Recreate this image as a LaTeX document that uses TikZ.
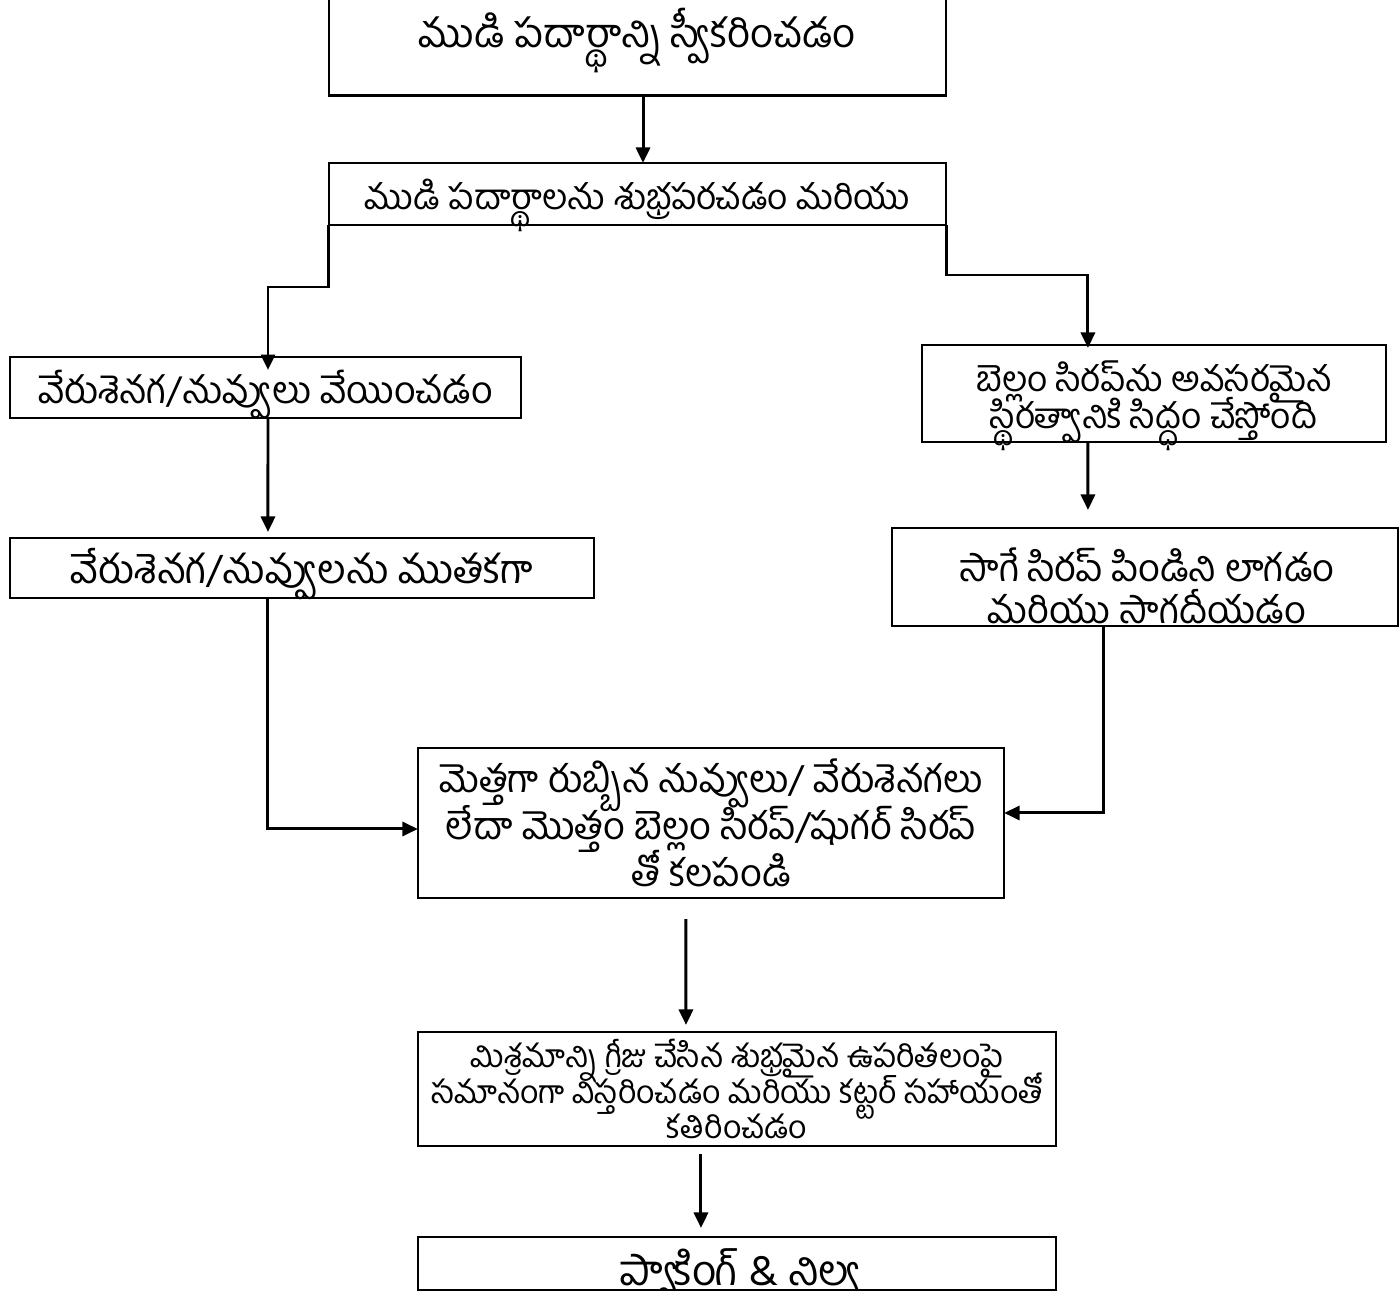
\documentclass[tikz,border=0pt]{standalone}
\usepackage{fontspec}
\newfontfamily\telugu[Script=Telugu]{Hind Guntur}
\usetikzlibrary{arrows.meta,positioning}
\tikzset{>={Triangle[width=4pt,length=4.4pt]}}
\newcommand{\tsize}[2]{\telugu\fontsize{#1}{#2}\selectfont\lineskiplimit=-20pt\lineskip=0pt}
\tikzset{
	stepbox/.style={draw, line width=0.6pt, outer sep=0pt, inner xsep=2pt, inner ysep=0pt, align=center,
			font=\tsize{11}{13}},
	oneline/.style={text height=10pt, text depth=1pt},
	steptext/.style={inner sep=0pt, align=center, font=\tsize{11}{13}},
	flow/.style={->, line width=0.85pt}
}

\begin{document}
\begin{tikzpicture}[x=0.01cm, y=-0.01cm]
	\useasboundingbox (0,0) rectangle (1399,1292);
	% process boxes
	\node[stepbox, minimum width=6.17cm, minimum height=0.97cm] (take) at (637.5,47) {};
	\node[steptext, font=\tsize{11.4}{13}] (take-t) at (637.5,41) {ముడి పదార్థాన్ని స్వీకరించడం};
	\node[stepbox, oneline, minimum width=6.17cm, minimum height=0.62cm, font=\tsize{10}{12}] (clean) at (637.5,194) {ముడి పదార్థాలను శుభ్రపరచడం మరియు};
	\node[stepbox, oneline, minimum width=5.11cm, minimum height=0.61cm, font=\tsize{10.7}{12}] (roast) at (265.5,387.5) {వేరుశెనగ/నువ్వులు వేయించడం};
	\node[stepbox, text height=21pt, text depth=1pt, minimum width=4.64cm, minimum height=0.97cm, font=\tsize{10}{10.7}] (syrup) at (1154,393.5) {బెల్లం సిరప్‌ను అవసరమైన\\స్థిరత్వానికి సిద్ధం చేస్తోంది};
	\node[stepbox, oneline, minimum width=5.84cm, minimum height=0.60cm, font=\tsize{11.3}{12}] (crush) at (302,568) {వేరుశెనగ/నువ్వులను ముతకగా};
	\node[stepbox, minimum width=5.06cm, minimum height=0.98cm] (pull) at (1145,577) {};
	\node[stepbox, minimum width=5.86cm, minimum height=1.50cm, font=\tsize{10.8}{13.4}] (mix) at (711,823) {మెత్తగా రుబ్బిన నువ్వులు/ వేరుశెనగలు\\లేదా మొత్తం బెల్లం సిరప్/షుగర్ సిరప్\\తో కలపండి};
	\node[stepbox, minimum width=6.38cm, minimum height=1.14cm, font=\tsize{9.1}{10.2}] (spread) at (737,1089) {మిశ్రమాన్ని గ్రీజు చేసిన శుభ్రమైన ఉపరితలంపై\\సమానంగా విస్తరించడం మరియు కట్టర్ సహాయంతో\\కతిరించడం};
	\node[stepbox, minimum width=6.38cm, minimum height=0.53cm] (store) at (737,1263.5) {};
	% texts cut off by their boxes
	\begin{scope}
		\clip (pull.north west) rectangle (pull.south east);
		\node[steptext, font=\tsize{10.8}{12}] (pull-t) at (1147,586) {సాగే సిరప్ పిండిని లాగడం\\మరియు సాగదీయడం};
	\end{scope}
	\begin{scope}
		\clip (store.north west) rectangle (store.south east);
		\node[steptext, font=\tsize{12}{13}] (store-t) at (740,1278) {ప్యాకింగ్ \& నిల్వ};
	\end{scope}
	% connectors
	\draw[flow] ([xshift=0.055cm]take.south) -- ([xshift=0.055cm]clean.north);
	\draw[flow] (clean.south west) -- ++(0,62) -| ([xshift=0.025cm,yshift=-0.13cm]roast.north);
	\draw[flow] (clean.south east) -- ++(0,50) -| ([xshift=-0.66cm,yshift=-0.03cm]syrup.north);
	\draw[flow, shorten >=0.18cm] ([xshift=-0.66cm]syrup.south) -- ([xshift=-0.57cm]pull.north);
	\draw[flow, shorten >=0.06cm] ([xshift=0.025cm]roast.south) -- ([xshift=-0.34cm]crush.north);
	\draw[flow] ([xshift=-0.34cm]crush.south) |- ([yshift=-0.06cm]mix.west);
	\draw[flow] ([xshift=-0.41cm]pull.south) |- ([yshift=0.1cm]mix.east);
	\draw[flow, shorten <=0.21cm, shorten >=0.07cm] ([xshift=-0.25cm]mix.south) -- ([xshift=-0.51cm]spread.north);
	\draw[flow, shorten <=0.08cm, shorten >=0.09cm] ([xshift=-0.36cm]spread.south) -- ([xshift=-0.36cm]store.north);
\end{tikzpicture}
\end{document}
